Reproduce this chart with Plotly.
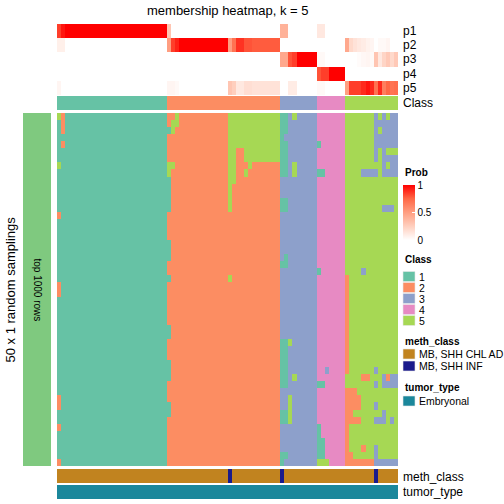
import plotly.graph_objects as go

W = H = 504

# ---------------- data ----------------
class_names = ["1", "2", "3", "4", "5"]
class_colors = ["#66C2A5", "#FC8D62", "#8DA0CB", "#E78AC3", "#A6D854"]

# class of each column (84 columns)
class_row = ("111111111111111111111111111 2222222222222222222222222222 "
             "333333333 4444444 5555555555555")

# membership probabilities p1..p5 per column
p1 = [0.85, 0.95] + [1.0] * 25 + [0.3] + [0.0] * 27 + [0.4, 0.4] + [0.0] * 7 + [0.12, 0.12] + [0.0] * 18
p2 = ([0.08, 0.08] + [0.0] * 25 + [0.5, 0.85, 0.92] + [1.0] * 12 +
      [0.5, 0.7, 0.88, 0.88, 0.8, 0.8] + [0.78] * 7 + [0.0] * 16 +
      [0.45, 0.2, 0.15, 0.12, 0.1, 0.07, 0.05, 0.0, 0.03, 0.03, 0.05, 0.0, 0.0])
p3 = ([0.0] * 55 + [0.45, 0.45, 0.8, 0.85] + [1.0] * 5 + [0.03, 0.03] + [0.0] * 5 +
      [0.0, 0.0, 0.0, 0.02, 0.04, 0.05, 0.03, 0.3, 0.12, 0.22, 0.28, 0.2, 0.28])
p4 = [0.0] * 64 + [0.8, 0.85, 0.85] + [1.0] * 4 + [0.0] * 13
p5 = ([0.05] + [0.0] * 26 + [0.05, 0.05, 0.03] + [0.0] * 12 +
      [0.3, 0.25, 0.12, 0.12, 0.17, 0.17] + [0.15] * 7 + [0.0, 0.0, 0.1, 0.1] + [0.0] * 5 +
      [0.03, 0.03] + [0.0] * 5 +
      [0.5, 0.85, 0.85, 0.85, 0.9, 0.95, 0.9, 0.7, 0.9, 0.65, 0.75, 0.7, 0.72])
prob_rows = ["p1", "p2", "p3", "p4", "p5"]

# 50 random samplings x 84 columns, class label of each cell
samplings = [
    "521111111111111111111111111 2252222222222225555555555555 113533333 4444444 5555555353533",
    "121111111111111111111111111 2552222222222225555555555555 113333333 4444444 5555555333333",
    "121111111111111111111111111 1522222222222225555555555555 113333333 4444444 5555555353333",
    "111111111111111111111111111 2222222222222225555555555555 133333333 4444444 5555555333333",
    "121111111111111111111111111 2222222222222225555555555555 113333333 1444444 5555555333333",
    "111111111111111111111111111 2222222222222225522555555555 113333333 4444444 5555555353555",
    "111111111111111111111111111 2222222222222225522555555555 113333333 4444444 5555555353333",
    "511111111111111111111111111 5522222222222225522252222222 113533333 4444444 5555555553533",
    "111111111111111111111111111 5222222222222225522522222222 113533333 1144444 5555333353333",
    "111111111111111111111111111 1222222222222225522222222222 333333333 4444444 5555555555555",
    "111111111111111111111111111 1222222222222225222222222222 333333333 4444444 5555555555555",
    "111111111111111111111111111 1222222222222225222222222222 333333333 4444444 5555555555555",
    "111111111111111111111111111 1222222222222225222222222222 113333333 4444444 5555555555555",
    "111111111111111111111111111 1222222222222225222222222222 113333333 4444444 5555555553335",
    "211111111111111111111111111 2222222222222222222222222222 333333333 4444444 5555555555555",
    "111111111111111111111111111 2222222222222222222222222222 333333333 4444444 5555555555555",
    "111111111111111111111111111 2222222222222222222222222222 333333333 4444444 5555555555555",
    "111111111111111111111111111 2222222222222222222222222222 333333333 4444444 5555555555555",
    "111111111111111111111111111 1222222222222222222222222222 333333333 4444444 5555555555555",
    "111111111111111111111111111 1222222222222222222222222222 333333333 4444444 5555555555555",
    "111111111111111111111111111 1222222222222222222222222222 313333333 4444444 5555555555555",
    "111111111111111111111111111 2222222222222222222222222222 113333333 4444444 5555555555555",
    "111111111111111111111111111 2222222222222222222222222222 333333333 1444444 5555355555555",
    "111111111111111111111111111 1222222222222225222222222222 333333333 4444444 2555555555555",
    "211111111111111111111111111 2222222222222222222222222222 333333333 4444444 2555555555555",
    "211111111111111111111111111 2222222222222222222222222222 333333333 4444444 2555555555555",
    "111111111111111111111111111 2222222222222222222222222222 333333333 4444444 2555555555555",
    "111111111111111111111111111 2222222222222222222222222222 333333333 4444444 2555555555555",
    "111111111111111111111111111 2222222222222222222222222222 333333333 4444444 2555555555555",
    "111111111111111111111111111 2222222222222222222222222222 333333333 4444444 2555555555555",
    "111111111111111111111111111 1222222222222222222222222222 333333333 4444444 2555555555555",
    "111111111111111111111111111 1222222222222222222222222222 333333333 4444444 2555555555555",
    "111111111111111111111111111 2222222222222222222222222222 115333333 4444444 2555555555555",
    "111111111111111111111111111 2222222222222222222222222222 113333333 4444444 2555555555555",
    "111111111111111111111111111 2222222222222222222222222222 113333333 4444444 2555555555555",
    "111111111111111111111111111 1222222222222222222222222222 113333333 4444444 2555555555555",
    "111111111111111111111111111 1222222222222222222222222222 113333333 4434444 2555555355555",
    "111111111111111111111111111 1222222222222222222222222222 113533333 4444444 5555225553233",
    "111111111111111111111111111 2222222222222222222222222222 113333333 1144444 5555555353333",
    "111111111111111111111111111 2222222222222222222222222222 333333333 4444444 2225555555555",
    "211111111111111111111111111 2222222222222222222222222222 335333333 4444444 2222555555555",
    "211111111111111111111111111 1222222222222222222222222222 335333333 4444444 2222555355555",
    "111111111111111111111111111 1222222222222222222222222222 115333333 4444444 2255555553555",
    "111111111111111111111111111 2222222222222222222222222222 115333333 4444444 2222555333535",
    "211111111111111111111111111 2222222222222222222222222222 333333333 1444444 2555555555555",
    "111111111111111111111111111 2222222222222222222222222222 333333333 1444444 2555555555555",
    "111111111111111111111111111 2222222222222222222222222222 333333333 1144444 2555555555555",
    "111111111111111111111111111 2222222222222222222222222222 333333333 1144444 2555255355555",
    "111111111111111111111111111 2222222222222222222222222222 113333333 1144444 2255555355555",
    "211111111111111111111111111 2222222222222222222222222222 133333333 5554444 2222222333333",
]

meth_names = ["MB, SHH CHL AD", "MB, SHH INF"]
meth_colors = ["#C1831F", "#1A1A8C"]
# A = MB, SHH CHL AD ; I = MB, SHH INF
meth_class = ("AAAAAAAAAAAAAAAAAAAAAAAAAAA AAAAAAAAAAAAAAAIAAAAAAAAAAAA "
              "IAAAAAAAA AAAAAAA AAAAAAAIAAAAA")

tumor_names = ["Embryonal"]
tumor_colors = ["#1B879B"]
tumor_type = ["Embryonal"] * 84

prob_scale = [[0, "#FFFFFF"], [0.25, "#FFCFBE"], [0.5, "#FF9E81"], [0.75, "#FF6846"], [1, "#FF0000"]]
left_color = "#7FC97F"

# ---------------- helpers ----------------
def clean(s):
    return s.replace(" ", "")

def discrete(colors):
    n = len(colors)
    cs = []
    for i, c in enumerate(colors):
        cs.append([i / n, c])
        cs.append([(i + 1) / n, c])
    return cs

def fy(p):
    return 1 - p / H

def fx(p):
    return p / W

cls_vals = [int(c) for c in clean(class_row)]
ncol = len(cls_vals)
cols = list(range(ncol))
main_z = [[int(c) for c in clean(r)] for r in samplings]
nrow = len(main_z)
meth_vals = [0 if c == "A" else 1 for c in clean(meth_class)]
tumor_vals = [tumor_names.index(t) for t in tumor_type]

X0, X1 = 57, 398
FONT = "Liberation Sans, Arial, Helvetica, sans-serif"

fig = go.Figure()

common = dict(hoverinfo="skip", xaxis="x")

fig.add_trace(go.Heatmap(z=[p1, p2, p3, p4, p5], x=cols, y=list(range(5)), yaxis="y",
                         colorscale=prob_scale, zmin=0, zmax=1, showscale=True,
                         colorbar=dict(x=fx(403), xanchor="left", y=fy(185), yanchor="top",
                                       len=55 / H, lenmode="fraction", thickness=12,
                                       thicknessmode="pixels", xpad=0, ypad=0,
                                       outlinewidth=0, tickvals=[0, 0.5, 1], ticktext=["0", "0.5", "1"],
                                       ticks="inside", ticklen=3, tickcolor="white",
                                       tickfont=dict(size=10, family=FONT, color="black")),
                         **common))
fig.add_trace(go.Heatmap(z=[cls_vals], x=cols, y=[0], yaxis="y2", colorscale=discrete(class_colors),
                         zmin=0.5, zmax=5.5, showscale=False, **common))
fig.add_trace(go.Heatmap(z=main_z, x=cols, y=list(range(nrow)), yaxis="y3",
                         colorscale=discrete(class_colors), zmin=0.5, zmax=5.5, showscale=False, **common))
fig.add_trace(go.Heatmap(z=[meth_vals], x=cols, y=[0], yaxis="y4", colorscale=discrete(meth_colors),
                         zmin=-0.5, zmax=1.5, showscale=False, **common))
fig.add_trace(go.Heatmap(z=[tumor_vals], x=cols, y=[0], yaxis="y5", colorscale=discrete(tumor_colors),
                         zmin=-0.5, zmax=0.5, showscale=False, **common))
fig.add_trace(go.Heatmap(z=[[0] for _ in range(nrow)], x=[0], y=list(range(nrow)), xaxis="x2", yaxis="y6",
                         colorscale=[[0, left_color], [1, left_color]], showscale=False, hoverinfo="skip"))

ax = dict(visible=False, showgrid=False, zeroline=False, fixedrange=True)
fig.update_layout(
    width=W, height=H, margin=dict(l=0, r=0, t=0, b=0),
    paper_bgcolor="white", plot_bgcolor="white", showlegend=False,
    xaxis=dict(domain=[fx(X0), fx(X1)], range=[-0.5, ncol - 0.5], **ax),
    xaxis2=dict(domain=[fx(23), fx(51)], range=[-0.5, 0.5], **ax),
    yaxis=dict(domain=[fy(95), fy(24)], range=[4.5, -0.5], **ax),
    yaxis2=dict(domain=[fy(110), fy(96)], range=[-0.5, 0.5], **ax),
    yaxis3=dict(domain=[fy(466), fy(113)], range=[nrow - 0.5, -0.5], **ax),
    yaxis4=dict(domain=[fy(483), fy(469)], range=[-0.5, 0.5], **ax),
    yaxis5=dict(domain=[fy(499), fy(485)], range=[-0.5, 0.5], **ax),
    yaxis6=dict(domain=[fy(466), fy(113)], range=[nrow - 0.5, -0.5], anchor="x2", **ax),
)

ann = []
def txt(x, y, s, size=10, bold=False, xanchor="left", angle=0):
    ann.append(dict(x=fx(x), y=fy(y), xref="paper", yref="paper", text=("<b>%s</b>" % s) if bold else s,
                    showarrow=False, xanchor=xanchor, yanchor="middle", textangle=angle,
                    font=dict(size=size, family=FONT, color="black")))

txt((X0 + X1) / 2, 10, "membership heatmap, k = 5", size=13, xanchor="center")
txt(10, 289.5, "50 x 1 random samplings", size=13, xanchor="center", angle=-90)
txt(37, 289.5, "top 1000 rows", size=10, xanchor="center", angle=90)
for i, lab in enumerate(prob_rows):
    txt(401, 31 + 14.2 * i, lab, size=12)
txt(401, 103, "Class", size=12)
txt(401, 477, "meth_class", size=12)
txt(401, 492, "tumor_type", size=12)

# legends
shapes = []
def swatch(y, color):
    shapes.append(dict(type="rect", xref="paper", yref="paper", x0=fx(403), x1=fx(415),
                       y0=fy(y + 5), y1=fy(y - 5), fillcolor=color, line=dict(width=0.6, color="#E8E8E8")))

txt(403, 172.5, "Prob", bold=True)
txt(403, 259, "Class", bold=True)
for i, (n, c) in enumerate(zip(class_names, class_colors)):
    y = 276.5 + 11 * i
    swatch(y, c)
    txt(417, y, n, size=10.5)
txt(403, 341, "meth_class", bold=True)
for i, (n, c) in enumerate(zip(meth_names, meth_colors)):
    y = 354 + 12 * i
    swatch(y, c)
    txt(417, y, n, size=10.5)
txt(403, 387, "tumor_type", bold=True)
for i, (n, c) in enumerate(zip(tumor_names, tumor_colors)):
    y = 401 + 12 * i
    swatch(y, c)
    txt(417, y, n, size=10.5)

fig.update_layout(annotations=ann, shapes=shapes)
fig.write_html("out.html", config={"displayModeBar": False},
               post_script="document.body.style.margin='0';")
